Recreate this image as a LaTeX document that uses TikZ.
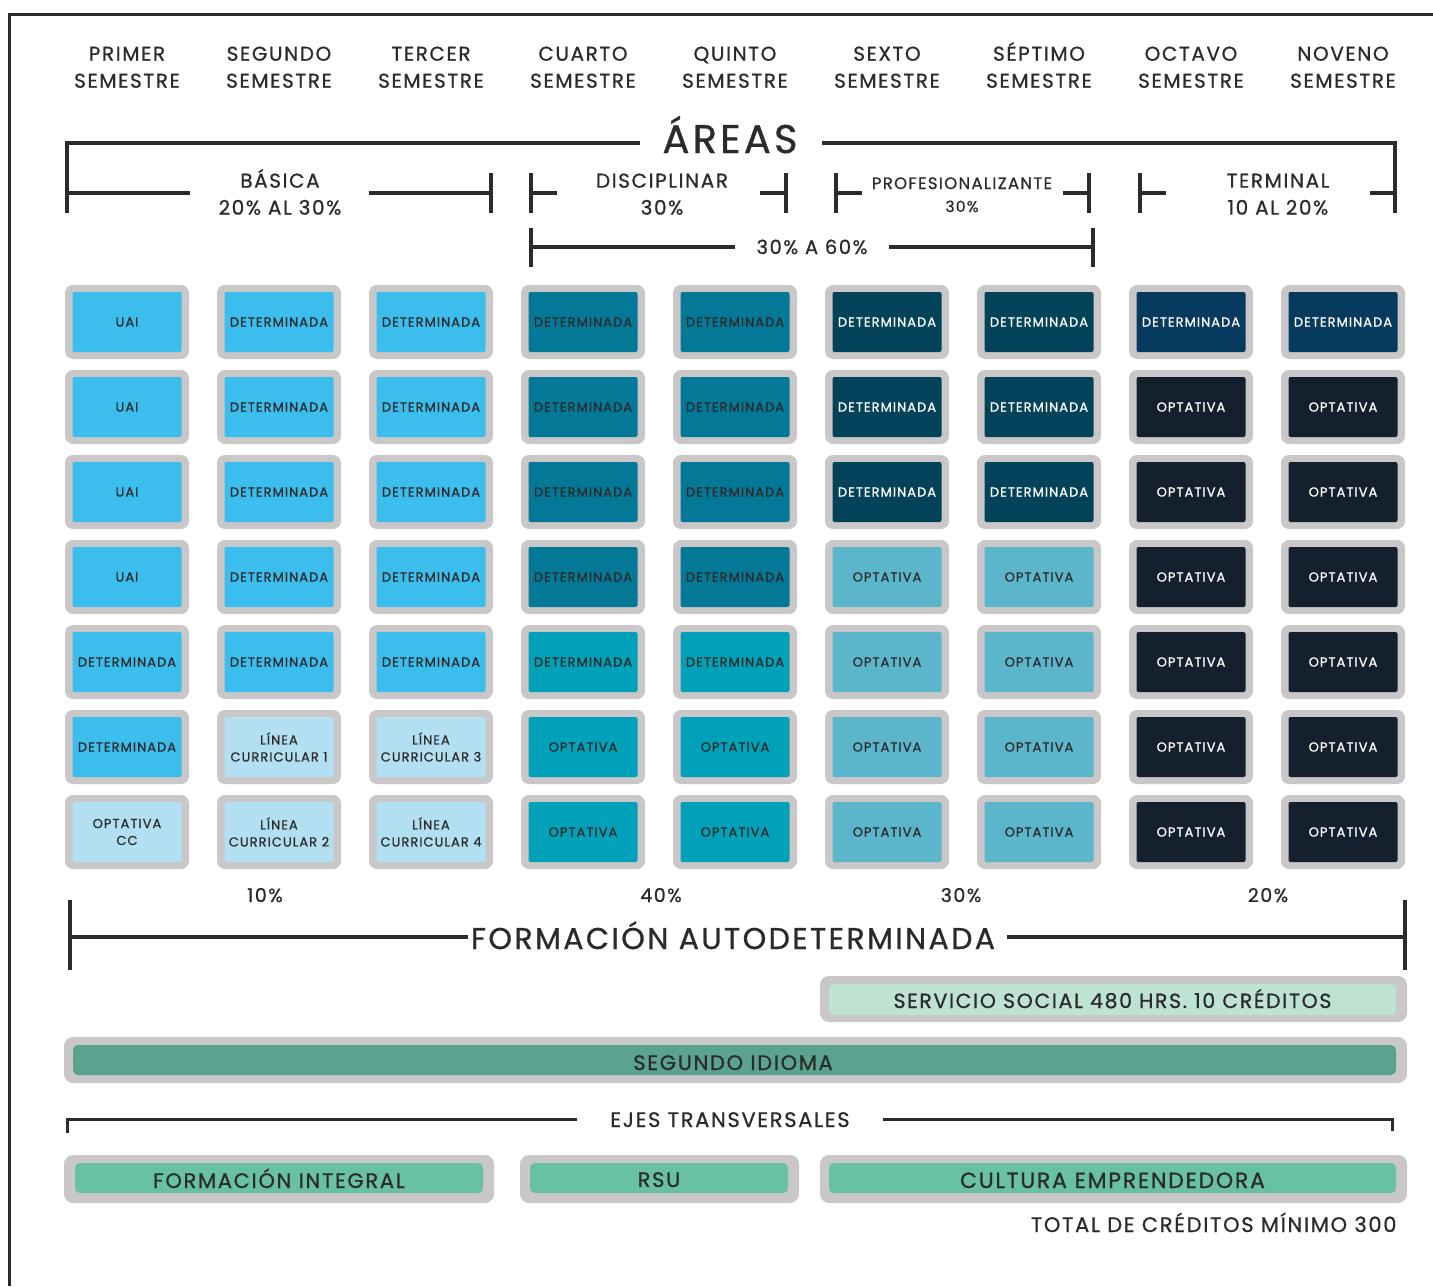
\documentclass[tikz,border=0pt]{standalone}
\usepackage{fontspec}
\setmainfont{Poppins}[LetterSpace=8,FakeBold=0.8]
\definecolor{cgray}{HTML}{C9C7C7}
\definecolor{bblue}{HTML}{3BBDEE}
\definecolor{lblue}{HTML}{B3DFF2}
\definecolor{tealA}{HTML}{037897}
\definecolor{tealB}{HTML}{01A1B9}
\definecolor{profA}{HTML}{02435A}
\definecolor{profB}{HTML}{5BB6CC}
\definecolor{termA}{HTML}{073A5F}
\definecolor{termB}{HTML}{14202E}
\definecolor{mint}{HTML}{BFE3D3}
\definecolor{sgreen}{HTML}{5BA391}
\definecolor{egreen}{HTML}{68C1A1}
\definecolor{ink}{HTML}{2B2B2B}
\tikzset{
  cellbg/.style={fill=cgray, rounded corners=8pt, minimum width=124pt, minimum height=74pt, inner sep=0pt},
  cellin/.style={rounded corners=2pt, minimum width=109pt, minimum height=60pt, inner sep=0pt, align=center,
     font=\fontsize{13}{17}\selectfont},
  head/.style={text=ink, align=center, font=\fontsize{20}{27}\selectfont},
  brk/.style={line width=4pt, draw=ink},
  thinbrk/.style={line width=3pt, draw=ink},
  barbg/.style={fill=cgray, rounded corners=9pt, inner sep=0pt},
  barin/.style={rounded corners=5pt, inner sep=0pt, text=ink},
  pct/.style={text=ink, font=\fontsize{19}{22}\selectfont, anchor=base},
  capline/.style={text=ink, anchor=base}
}
\newcommand\cellat[5]{%
  \pgfmathsetmacro\cx{127+152*(#1-1)}%
  \pgfmathsetmacro\cy{322+85*(#2-1)}%
  \node[cellbg] (g#1r#2) at (\cx,\cy) {};
  \node[cellin, fill=#3, text=#4] (c#1r#2) at (\cx,\cy) {#5};
}
\newcommand\acc{\vphantom{É}}
\begin{document}
\begin{tikzpicture}[x=1pt,y=-1pt]
\useasboundingbox (0,0) rectangle (1433,1286);
\fill[white] (0,0) rectangle (1433,1286);
% frame
\draw[line width=3pt, draw=ink] (1433,14) -- (9.5,14) -- (9.5,1286);
% semester headings
\foreach \i/\t in {1/PRIMER,2/SEGUNDO,3/TERCER,4/CUARTO,5/QUINTO,6/SEXTO,7/SÉPTIMO,8/OCTAVO,9/NOVENO}{
  \node[head] (h\i) at ({127+152*(\i-1)},65) {\acc\t\\SEMESTRE};
}
% AREAS
\node[capline, font=\fontsize{40}{44}\selectfont] (areas) at (730,153) {ÁREAS};
\draw[brk] (640,143) -- (67,143) -- (67,213);
\draw[brk] (822,143) -- (1395,143) -- (1395,213);
% BASICA
\node[head] (basica) at (280,192) {\acc BÁSICA\\20\% AL 30\%};
\draw[brk] (67,193) -- (190,193);
\draw[brk] (369,193) -- (491,193);
\draw[brk] (491,173) -- (491,213);
% DISCIPLINAR
\node[head] (disc) at (662,192) {\acc DISCIPLINAR\\30\%};
\draw[brk] (531,173) -- (531,213);
\draw[brk] (531,193) -- (557,193);
\draw[brk] (760,193) -- (786,193);
\draw[brk] (786,173) -- (786,213);
% PROFESIONALIZANTE
\node[capline, font=\fontsize{16.5}{18}\selectfont] (prof) at (962,189) {PROFESIONALIZANTE};
\node[capline, font=\fontsize{15.5}{18}\selectfont] (prof30) at (962,212) {30\%};
\draw[brk] (836,173) -- (836,213);
\draw[brk] (836,193) -- (862,193);
\draw[brk] (1063,193) -- (1089,193);
\draw[brk] (1089,173) -- (1089,213);
% TERMINAL
\node[head] (term) at (1278,192) {\acc TERMINAL\\10 AL 20\%};
\draw[brk] (1140,173) -- (1140,213);
\draw[brk] (1140,193) -- (1166,193);
\draw[brk] (1370,193) -- (1395,193);
% 30% A 60%
\node[capline, font=\fontsize{19.5}{22}\selectfont] (mid) at (812,254) {30\% A 60\%};
\draw[brk] (531,228) -- (531,267);
\draw[brk] (531,247) -- (735,247);
\draw[brk] (889,247) -- (1093,247);
\draw[brk] (1093,228) -- (1093,267);
% cells col 1
\foreach \r in {1,...,4}{\cellat{1}{\r}{bblue}{ink}{UAI}}
\cellat{1}{5}{bblue}{ink}{DETERMINADA}
\cellat{1}{6}{bblue}{ink}{DETERMINADA}
\cellat{1}{7}{lblue}{ink}{OPTATIVA\\CC}
% col 2, 3
\foreach \c in {2,3}{\foreach \r in {1,...,5}{\cellat{\c}{\r}{bblue}{ink}{DETERMINADA}}}
\cellat{2}{6}{lblue}{ink}{LÍNEA\\CURRICULAR 1}
\cellat{2}{7}{lblue}{ink}{LÍNEA\\CURRICULAR 2}
\cellat{3}{6}{lblue}{ink}{LÍNEA\\CURRICULAR 3}
\cellat{3}{7}{lblue}{ink}{LÍNEA\\CURRICULAR 4}
% col 4, 5
\foreach \c in {4,5}{
  \foreach \r in {1,...,4}{\cellat{\c}{\r}{tealA}{ink}{DETERMINADA}}
  \cellat{\c}{5}{tealB}{ink}{DETERMINADA}
  \cellat{\c}{6}{tealB}{ink}{OPTATIVA}
  \cellat{\c}{7}{tealB}{ink}{OPTATIVA}
}
% col 6, 7
\foreach \c in {6,7}{
  \foreach \r in {1,...,3}{\cellat{\c}{\r}{profA}{white}{DETERMINADA}}
  \foreach \r in {4,...,7}{\cellat{\c}{\r}{profB}{ink}{OPTATIVA}}
}
% col 8, 9
\foreach \c in {8,9}{
  \cellat{\c}{1}{termA}{white}{DETERMINADA}
  \foreach \r in {2,...,7}{\cellat{\c}{\r}{termB}{white}{OPTATIVA}}
}
% percentages
\node[pct] (p10) at (265,902) {10\%};
\node[pct] (p40) at (661,902) {40\%};
\node[pct] (p30) at (961,902) {30\%};
\node[pct] (p20) at (1268,902) {20\%};
% FORMACION AUTODETERMINADA
\node[capline, font=\fontsize{30}{34}\selectfont] (fa) at (733,949) {FORMACIÓN AUTODETERMINADA};
\draw[brk] (70,900) -- (70,970);
\draw[brk] (70,937) -- (468,937);
\draw[brk] (1007,937) -- (1405,937);
\draw[brk] (1405,900) -- (1405,970);
% SERVICIO SOCIAL
\node[barbg, minimum width=587pt, minimum height=46pt] (ssbg) at (1113.5,999) {};
\node[barin, fill=mint, minimum width=567pt, minimum height=31pt] (ss) at (1112.5,999.5) {};
\node[capline, font=\fontsize{20.5}{24}\selectfont] (sst) at (1112.5,1008) {SERVICIO SOCIAL 480 HRS. 10 CRÉDITOS};
% SEGUNDO IDIOMA
\node[barbg, minimum width=1343pt, minimum height=46pt] (sibg) at (735.5,1060) {};
\node[barin, fill=sgreen, minimum width=1323pt, minimum height=30pt] (si) at (734.5,1060) {};
\node[capline, font=\fontsize{21}{24}\selectfont] (sit) at (733,1070) {SEGUNDO IDIOMA};
% EJES TRANSVERSALES
\node[capline, font=\fontsize{21}{24}\selectfont] (ejes) at (730,1127) {EJES TRANSVERSALES};
\draw[thinbrk] (67,1133) -- (67,1119) -- (577,1119);
\draw[thinbrk] (883,1119) -- (1392,1119) -- (1392,1131);
% bottom bars
\node[barbg, minimum width=430pt, minimum height=48pt] (fibg) at (279,1179) {};
\node[barin, fill=egreen, minimum width=408pt, minimum height=30pt] (fi) at (279,1178) {};
\node[capline, font=\fontsize{21}{24}\selectfont] (fit) at (279,1188) {FORMACIÓN INTEGRAL};
\node[barbg, minimum width=279pt, minimum height=48pt] (rsubg) at (659.5,1179) {};
\node[barin, fill=egreen, minimum width=258pt, minimum height=30pt] (rsu) at (659,1178) {};
\node[capline, font=\fontsize{21}{24}\selectfont] (rsut) at (659,1187) {RSU};
\node[barbg, minimum width=587pt, minimum height=48pt] (cebg) at (1113.5,1179) {};
\node[barin, fill=egreen, minimum width=567pt, minimum height=30pt] (ce) at (1112.5,1178) {};
\node[capline, font=\fontsize{22}{24}\selectfont] (cet) at (1112.5,1188) {CULTURA EMPRENDEDORA};
% total
\node[capline, anchor=base east, font=\fontsize{21}{23}\selectfont] (total) at (1400,1232) {TOTAL DE CRÉDITOS MÍNIMO 300};
\end{tikzpicture}
\end{document}
